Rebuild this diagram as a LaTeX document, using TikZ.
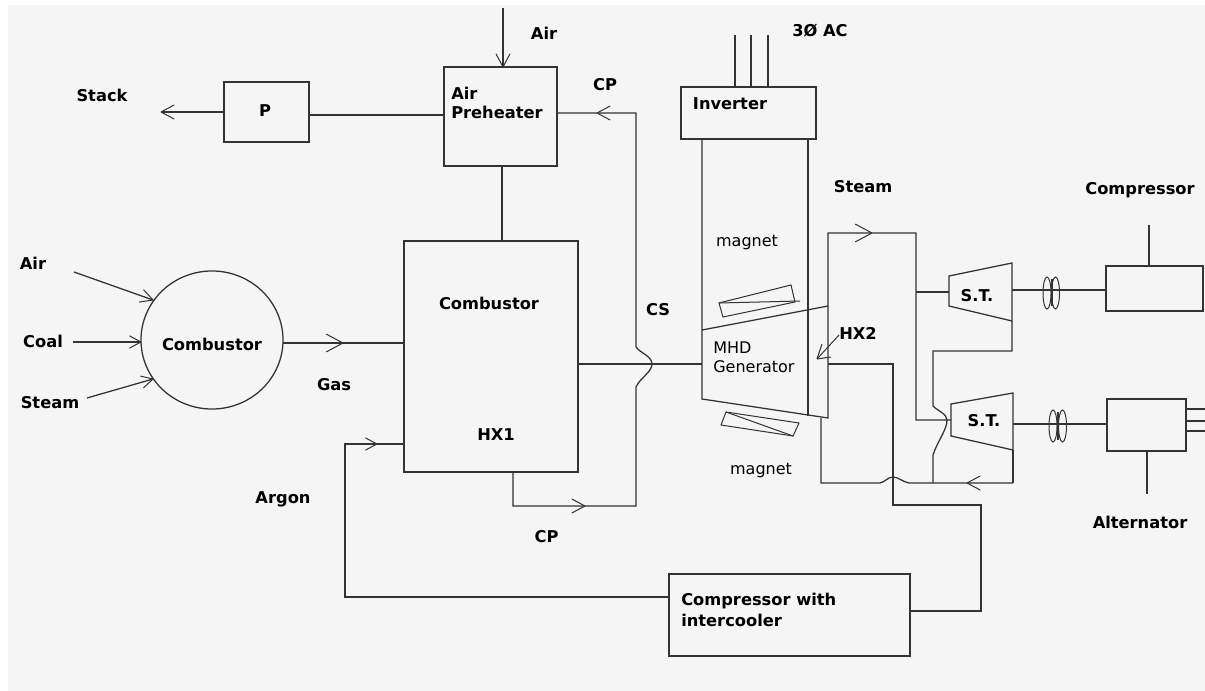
\documentclass[tikz,border=0pt]{standalone}
\usepackage{fontspec}
\setmainfont{DejaVu Sans}
\usetikzlibrary{shapes.geometric}
\definecolor{ln}{HTML}{333333}
\definecolor{pg}{HTML}{F5F5F5}
\tikzset{
  wire/.style={draw=ln,line width=0.95pt},
  thin wire/.style={draw=ln,line width=0.75pt},
  thick bar/.style={draw=ln,line width=1.5pt},
  blk/.style={draw=ln,line width=0.95pt,fill=none,inner sep=0pt},
  lbl/.style={font=\bfseries\fontsize{12.2pt}{14pt}\selectfont,text=black,inner sep=0pt,anchor=center},
  lblm/.style={font=\fontsize{12pt}{14pt}\selectfont,text=black,inner sep=0pt,anchor=center},
  head/.style={draw=ln,line width=0.75pt},
}
\newcommand{\ahead}[4][15]{% [length] tip x,y; angle of travel
  \draw[head] (#2,#3) -- ++(#4+152:#1) (#2,#3) -- ++(#4-152:#1);}
\begin{document}
\begin{tikzpicture}[x=0.75pt,y=-0.75pt]
\useasboundingbox (0,0) rectangle (1205,691);
\fill[white] (0,0) rectangle (1205,691);
\fill[pg] (8,5) rectangle (1205,691);
% boxes
\node[blk,minimum width=85*0.75pt,minimum height=60*0.75pt] (p) at (266.5,112) {};
\node[blk,minimum width=113*0.75pt,minimum height=99*0.75pt] (ap) at (500.5,116.5) {};
\node[blk,minimum width=174*0.75pt,minimum height=231*0.75pt] (cb) at (491,356.5) {};
\node[blk,minimum width=241*0.75pt,minimum height=82*0.75pt] (ci) at (789.5,615) {};
\node[blk,minimum width=135*0.75pt,minimum height=52*0.75pt] (inv) at (748.5,113) {};
\node[blk,minimum width=97*0.75pt,minimum height=45*0.75pt] (cmp) at (1154.5,288.5) {};
\node[blk,minimum width=79*0.75pt,minimum height=52*0.75pt] (alt) at (1146.5,425) {};
\node[blk,ellipse,minimum width=142*0.75pt,minimum height=138*0.75pt] (circ) at (212,340) {};
% labels
\node[lbl] (tstack) at (102,95) {Stack};
\node[lbl] (tp) at (265,111) {P};
\node[lbl] (tair1) at (544,33) {Air};
\node[lbl,anchor=west] (tap1) at (451,93) {Air};
\node[lbl,anchor=west] (tap2) at (451,112) {Preheater};
\node[lbl] (tcp1) at (605,85) {CP};
\node[lbl] (tac) at (820,31) {3Ø AC};
\node[lbl] (tinv) at (730,104) {Inverter};
\node[lbl] (tsteam1) at (863,187) {Steam};
\node[lbl] (tcmp) at (1140,190) {Compressor};
\node[lbl] (tair2) at (33,263) {Air};
\node[lbl] (tcoal) at (43,341) {Coal};
\node[lbl] (tsteam2) at (50,403) {Steam};
\node[lbl] (tcomb1) at (212,344) {Combustor};
\node[lbl] (tgas) at (334,385) {Gas};
\node[lbl] (tcomb2) at (489,303) {Combustor};
\node[lbl] (thx1) at (496,435) {HX1};
\node[lbl] (tcs) at (658,310) {CS};
\node[lblm] (tmag1) at (747,243) {magnet};
\node[lblm,anchor=west] (tmhd1) at (713,348) {MHD};
\node[lblm,anchor=west] (tmhd2) at (713,367) {Generator};
\node[lbl] (thx2) at (858,333) {HX2};
\node[lblm] (tmag2) at (761,471) {magnet};
\node[lbl] (tst1) at (977,296) {S.T.};
\node[lbl] (tst2) at (984,421) {S.T.};
\node[lbl] (talt) at (1140,522) {Alternator};
\node[lbl] (targon) at (283,499) {Argon};
\node[lbl] (tcp2) at (546.5,537) {CP};
\node[lbl,anchor=west] (tci1) at (681,601) {Compressor with};
\node[lbl,anchor=west] (tci2) at (681,620) {intercooler};
% left inputs
\coordinate (a1) at (74,272);
\coordinate (c1) at (73,342);
\coordinate (s1) at (87,398);
\draw[wire] (a1)--(153,300); \draw[wire] (c1)--(141,342); \draw[wire] (s1)--(153,379);
\ahead[14]{153}{300}{19.5}
\ahead[13]{141}{342}{0}
\ahead[13]{153}{379}{-15}
% gas
\draw[wire] (283,343) -- (cb.west |- 0,343);
\ahead[19]{343}{343}{0}
% argon loop
\draw[wire] (ci.west |- 0,597) -- (345,597) -- (345,444) -- (cb.west |- 0,444);
\ahead[13]{377}{444}{0}
% stack
\coordinate (stk) at (161,112);
\draw[wire] (p.west) -- (stk);
\ahead{161}{112}{180}
\draw[wire] (p.east |- 0,115) -- (ap.west |- 0,115);
% air in
\coordinate (airin) at (503,8);
\draw[wire] (airin) -- (ap.north -| airin);
\ahead{503}{67}{90}
\draw[wire] (ap.south -| 502,0) -- (cb.north -| 502,0);
% CP/CS
\draw[wire] (ap.east |- 0,113) -- (636,113) -- (636,347) .. controls (640,353) and (652,356) .. (652,364) .. controls (652,372) and (640,378) .. (636,387) -- (636,506) -- (513,506) -- (cb.south -| 513,0);
\ahead{597}{113}{180}
\ahead{585}{506}{0}
\draw[wire] (cb.east |- 0,364) -- (702,364);
% inverter
\draw[wire] (735,35) -- (inv.north -| 735,0) (751,35) -- (inv.north -| 751,0) (768,35) -- (inv.north -| 768,0);
\draw[wire] (inv.south -| 702,0) -- (702,399) -- (828,418) -- (828,233) -- (916,233) -- (916,420) -- (951,420);
\draw[wire] (inv.south -| 808,0) -- (808,416);
\draw[wire] (702,330) -- (828,306);
\ahead[19]{872}{233}{0}
% magnets
\draw[thin wire] (719,303) -- (791,285) -- (795,302) -- (723,317) -- cycle;
\draw[thin wire] (719,303) -- (800,301);
\draw[thin wire] (726,412) -- (799,423) -- (793,436) -- (721,425) -- cycle;
\draw[thin wire] (726,412) -- (793,436);
% hx2 pointer
\draw[thin wire] (839,335) -- (817,359);
\draw[head] (817,359) -- (822,344) (817,359) -- (831,357);
% HX2 right loop
\draw[wire] (828,364) -- (893,364) -- (893,505) -- (981,505) -- (981,611) -- (ci.east |- 0,611);
\draw[wire] (821,418) -- (821,483) -- (880,483) .. controls (885,482) and (888,477) .. (893,477) .. controls (898,477) and (903,482) .. (909,483) -- (1013,483);
\ahead{967}{483}{180}
% turbines
\draw[blk] (949,276) -- (1012,263) -- (1012,321) -- (949,306) -- cycle;
\draw[blk] (951,404) -- (1013,393) -- (1013,450) -- (951,436) -- cycle;
\draw[wire] (916,292) -- (949,292);
\draw[wire] (1012,321) -- (1012,351) -- (933,351) -- (933,406) .. controls (938,411) and (947,414) .. (947,420) .. controls (947,430) and (937,442) .. (933,455) -- (933,483);
\draw[wire] (1013,450) -- (1013,483);
% shafts and couplings
\draw[wire] (1012,290) -- (cmp.west |- 0,290);
\draw[wire] (1013,424) -- (alt.west |- 0,424);
\draw[thin wire] (1047,293) ellipse [x radius=4,y radius=16];
\draw[thin wire] (1055.5,293) ellipse [x radius=4,y radius=16];
\draw[thick bar] (1052,279) -- (1052,306);
\draw[thin wire] (1053,426) ellipse [x radius=4,y radius=16];
\draw[thin wire] (1062.5,426) ellipse [x radius=4,y radius=16];
\draw[thick bar] (1058,412) -- (1058,440);
% machine stubs
\coordinate (cstub) at (1149,225);
\coordinate (astub) at (1147,494);
\draw[wire] (cstub) -- (cmp.north -| cstub);
\draw[wire] (alt.south -| astub) -- (astub);
\draw[wire] (alt.east |- 0,409) -- (1205,409) (alt.east |- 0,421) -- (1205,421) (alt.east |- 0,431) -- (1205,431);
\end{tikzpicture}
\end{document}
